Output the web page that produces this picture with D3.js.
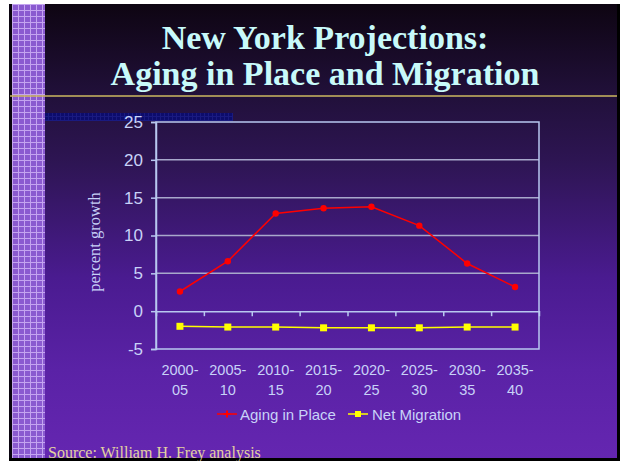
<!DOCTYPE html>
<html>
<head>
<meta charset="utf-8">
<script src="https://cdn.jsdelivr.net/npm/d3@7"></script>
<style>
  html, body { margin: 0; padding: 0; background: #ffffff; }
  svg { display: block; }
</style>
</head>
<body>
<svg id="chart" width="623" height="461"></svg>
<script>
// Period labels (two lines each) and projected growth, in percent
const periodTop    = ["2000-", "2005-", "2010-", "2015-", "2020-", "2025-", "2030-", "2035-"];
const periodBottom = ["05", "10", "15", "20", "25", "30", "35", "40"];
const periods      = periodTop.map((t, i) => t + periodBottom[i]);
const agingInPlace = [2.6, 6.6, 12.9, 13.6, 13.8, 11.3, 6.3, 3.2];
const netMigration = [-2.0, -2.1, -2.1, -2.2, -2.2, -2.2, -2.1, -2.1];
const yTicks       = [-5, 0, 5, 10, 15, 20, 25];

const svg = d3.select("#chart");
const defs = svg.append("defs");

// Slide background: near-black at the top fading into violet
const bg = defs.append("linearGradient").attr("id", "bg")
  .attr("x1", 0).attr("y1", 0).attr("x2", 0).attr("y2", 1);
[["0%", "#0e0512"], ["20%", "#21103a"], ["35%", "#2e1554"], ["60%", "#4a1b90"], ["80%", "#5a22a6"], ["100%", "#6526b1"]]
  .forEach(([o, c]) => bg.append("stop").attr("offset", o).attr("stop-color", c));

// Checkered pattern for the decorative strips
const pat = defs.append("pattern").attr("id", "grid")
  .attr("width", 6).attr("height", 6).attr("patternUnits", "userSpaceOnUse")
  .attr("x", 12).attr("y", 4);
pat.append("rect").attr("width", 6).attr("height", 6).attr("fill", "#8a5ad0");
pat.append("path").attr("d", "M0,0.5H6M0.5,0V6").attr("stroke", "#c4a4f0").attr("stroke-width", 1);

const bpat = defs.append("pattern").attr("id", "bgrid")
  .attr("width", 4).attr("height", 4).attr("patternUnits", "userSpaceOnUse");
bpat.append("rect").attr("width", 4).attr("height", 4).attr("fill", "#0c0c6c");
bpat.append("path").attr("d", "M0,0.5H4M0.5,0V4").attr("stroke", "#1a1a80").attr("stroke-width", 1);

svg.append("rect").attr("x", 10).attr("y", 4).attr("width", 610).attr("height", 457).attr("fill", "url(#bg)");
svg.append("rect").attr("x", 9).attr("y", 4).attr("width", 3).attr("height", 457).attr("fill", "#0a0410");
svg.append("rect").attr("x", 617).attr("y", 4).attr("width", 3).attr("height", 457).attr("fill", "#000000");
svg.append("rect").attr("x", 9).attr("y", 458).attr("width", 611).attr("height", 3).attr("fill", "#000000");
svg.append("rect").attr("x", 12).attr("y", 4).attr("width", 33).attr("height", 454).attr("fill", "url(#grid)");
svg.append("rect").attr("x", 45).attr("y", 113).attr("width", 188).attr("height", 8).attr("fill", "url(#bgrid)");

// Title and rule
const title = svg.append("g").attr("font-family", "'Liberation Serif', 'Times New Roman', serif")
  .attr("font-weight", "bold").attr("font-size", 34).attr("fill", "#c8fafa").attr("text-anchor", "middle");
title.append("text").attr("x", 325).attr("y", 49).text("New York Projections:");
title.append("text").attr("x", 325).attr("y", 85).text("Aging in Place and Migration");
svg.append("line").attr("x1", 10).attr("x2", 617).attr("y1", 96).attr("y2", 96)
  .attr("stroke", "#cdb860").attr("stroke-width", 1.5);

// Scales
const plotLeft = 156, plotRight = 539, plotTop = 122, plotBottom = 349;
const x = d3.scaleBand().domain(periods).range([plotLeft, plotRight]).padding(0);
const xEdge = d3.scaleLinear().domain([0, periods.length]).range([plotLeft, plotRight]);
const y = d3.scaleLinear().domain([-5, 25]).range([plotBottom, plotTop]);

const axisColor = "#b8c8f0";
const textColor = "#c8d2f8";

// Horizontal gridlines
svg.append("g").selectAll("line").data(yTicks.filter(v => v !== 0 && v !== -5 && v !== 25)).join("line")
  .attr("x1", plotLeft).attr("x2", plotRight).attr("y1", d => y(d)).attr("y2", d => y(d))
  .attr("stroke", "#a8a8cc").attr("stroke-width", 1.5);

// Plot frame
svg.append("rect").attr("x", plotLeft).attr("y", plotTop)
  .attr("width", plotRight - plotLeft).attr("height", plotBottom - plotTop)
  .attr("fill", "none").attr("stroke", axisColor).attr("stroke-width", 1.5);

// Y axis
const yAxis = svg.append("g").attr("transform", `translate(${plotLeft},0)`)
  .call(d3.axisLeft(y).tickValues(yTicks).tickSize(5).tickPadding(8).tickFormat(d => String(d)));
yAxis.select(".domain").attr("stroke", axisColor).attr("stroke-width", 1.5);
yAxis.selectAll(".tick line").attr("stroke", axisColor).attr("stroke-width", 1.5);
yAxis.selectAll(".tick text").attr("fill", textColor)
  .attr("font-family", "'Liberation Sans', Arial, sans-serif").attr("font-size", 17);

// Zero line with tick marks between periods
const zAxis = svg.append("g").attr("transform", `translate(0,${y(0)})`)
  .call(d3.axisBottom(xEdge).tickValues(d3.range(1, periods.length)).tickSize(5).tickFormat(""));
zAxis.select(".domain").attr("stroke", axisColor).attr("stroke-width", 1.5);
zAxis.selectAll(".tick line").attr("stroke", axisColor).attr("stroke-width", 1.5);

// Period labels below the frame
const xAxis = svg.append("g").attr("transform", `translate(0,${plotBottom})`)
  .call(d3.axisBottom(x).tickSize(0).tickFormat(""));
xAxis.select(".domain").remove();
xAxis.selectAll(".tick").each(function(d, i) {
  const t = d3.select(this).append("text").attr("fill", textColor).attr("text-anchor", "middle")
    .attr("font-family", "'Liberation Sans', Arial, sans-serif").attr("font-size", 14.5);
  t.append("tspan").attr("x", 0).attr("y", 26).text(periodTop[i]);
  t.append("tspan").attr("x", 0).attr("y", 46).text(periodBottom[i]);
});

// Y axis title
svg.append("text").attr("transform", `translate(100,242) rotate(-90)`)
  .attr("text-anchor", "middle").attr("fill", textColor)
  .attr("font-family", "'Liberation Serif', 'Times New Roman', serif").attr("font-size", 16.5)
  .text("percent growth");

// Series
const line = d3.line().x((d, i) => x(periods[i]) + x.bandwidth() / 2).y(d => y(d));
const red = "#ff0000", yellow = "#ffff00";

svg.append("path").datum(netMigration).attr("d", line)
  .attr("fill", "none").attr("stroke", yellow).attr("stroke-width", 1.5);
svg.append("g").selectAll("rect").data(netMigration).join("rect")
  .attr("x", (d, i) => x(periods[i]) + x.bandwidth() / 2 - 3.5).attr("y", d => y(d) - 3.5)
  .attr("width", 7).attr("height", 7).attr("fill", yellow);

svg.append("path").datum(agingInPlace).attr("d", line)
  .attr("fill", "none").attr("stroke", red).attr("stroke-width", 1.5);
svg.append("g").selectAll("circle").data(agingInPlace).join("circle")
  .attr("cx", (d, i) => x(periods[i]) + x.bandwidth() / 2).attr("cy", d => y(d))
  .attr("r", 3.2).attr("fill", red);

// Legend
const legend = svg.append("g").attr("font-family", "'Liberation Sans', Arial, sans-serif")
  .attr("font-size", 15).attr("fill", textColor);
legend.append("line").attr("x1", 217).attr("x2", 237).attr("y1", 414).attr("y2", 414)
  .attr("stroke", red).attr("stroke-width", 1.5);
legend.append("path").attr("d", "M227,410.5V417.5M223.5,414H230.5").attr("stroke", red).attr("stroke-width", 2);
legend.append("text").attr("x", 240).attr("y", 419.5).text("Aging in Place");
legend.append("line").attr("x1", 348).attr("x2", 368).attr("y1", 414).attr("y2", 414)
  .attr("stroke", yellow).attr("stroke-width", 1.5);
legend.append("rect").attr("x", 355).attr("y", 411).attr("width", 6).attr("height", 6).attr("fill", yellow);
legend.append("text").attr("x", 372).attr("y", 419.5).text("Net Migration");

// Source note
svg.append("text").attr("x", 48).attr("y", 457.5)
  .attr("font-family", "'Liberation Serif', 'Times New Roman', serif").attr("font-size", 16)
  .attr("fill", "#e2d2a0").text("Source: William H. Frey analysis");
</script>
</body>
</html>
